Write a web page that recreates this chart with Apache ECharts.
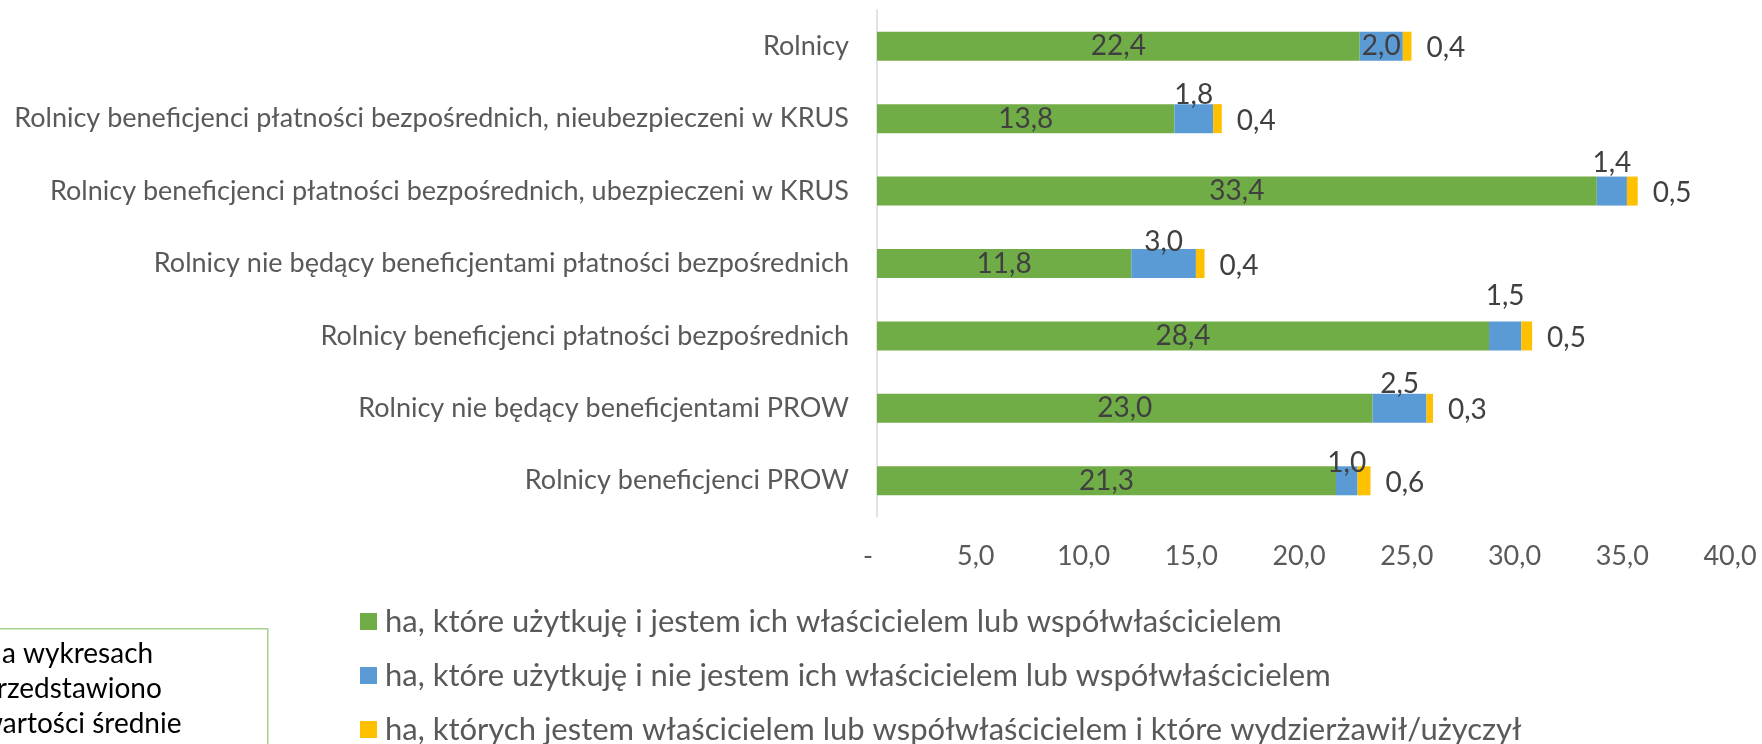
<!DOCTYPE html>
<html>
<head>
<meta charset="utf-8">
<title>Struktura gruntów rolnych</title>
<script src="https://cdn.jsdelivr.net/npm/echarts@6/dist/echarts.min.js"></script>
<style>
  html, body {
    margin: 0;
    padding: 0;
    background: #fff;
  }
  #chart {
    width: 1762px;
    height: 744px;
  }
</style>
</head>
<body>
<div id="chart"></div>
<script>
// kategorie od góry do dołu
const categories = [
  'Rolnicy',
  'Rolnicy beneficjenci płatności bezpośrednich, nieubezpieczeni w KRUS',
  'Rolnicy beneficjenci płatności bezpośrednich, ubezpieczeni w KRUS',
  'Rolnicy nie będący beneficjentami płatności bezpośrednich',
  'Rolnicy beneficjenci płatności bezpośrednich',
  'Rolnicy nie będący beneficjentami PROW',
  'Rolnicy beneficjenci PROW'
]

const seriesNames = [
  'ha, które użytkuję i jestem ich właścicielem lub współwłaścicielem',
  'ha, które użytkuję i nie jestem ich właścicielem lub współwłaścicielem',
  'ha, których jestem właścicielem lub współwłaścicielem i które wydzierżawił/użyczył'
]

const ownedUsed = [22.4, 13.8, 33.4, 11.8, 28.4, 23.0, 21.3]
const notOwnedUsed = [2.0, 1.8, 1.4, 3.0, 1.5, 2.5, 1.0]
const ownedLeasedOut = [0.4, 0.4, 0.5, 0.4, 0.5, 0.3, 0.6]

const axisMin = 0
const axisMax = 40
const axisStep = 5

// przesunięcie etykiet niebieskich w pionie (ręcznie ułożone w oryginale)
const blueLabelShift = [0, -24, -28, -22, -40, -24, -18]

const fontFamily = 'Lato, "Open Sans", sans-serif'

const fmt = v => v.toFixed(1).replace('.', ',')

const chart = echarts.init(document.getElementById('chart'), null, { renderer: 'canvas' })

const blueData = notOwnedUsed.map((v, i) => {
  return {
    value: v,
    label: { offset: [0, blueLabelShift[i]] }
  }
})

const chartOption = {
  animation: false,
  color: ['#70AD47', '#5B9BD5', '#FFC000'],
  textStyle: { fontFamily: fontFamily },
  grid: {
    left: 877,
    right: 23,
    top: 10,
    bottom: 227,
    containLabel: false
  },
  legend: {
    orient: 'vertical',
    left: 360,
    top: 606,
    height: 300,
    padding: 0,
    itemWidth: 17,
    itemHeight: 17,
    itemGap: 23,
    icon: 'rect',
    data: seriesNames,
    textStyle: {
      fontFamily: fontFamily,
      fontSize: 31,
      color: '#595959',
      padding: [0, 0, 0, 3]
    }
  },
  xAxis: {
    type: 'value',
    min: axisMin,
    max: axisMax,
    interval: axisStep,
    splitLine: { show: false },
    axisLine: { show: false },
    axisTick: { show: false },
    axisLabel: {
      margin: 26,
      fontSize: 27,
      color: '#595959',
      padding: [0, 18, 0, 0],
      formatter: v => (v === 0 ? '-' : fmt(v))
    }
  },
  yAxis: {
    type: 'category',
    inverse: true,
    data: categories,
    axisLine: {
      lineStyle: { color: '#D9D9D9', width: 1.5 }
    },
    axisTick: { show: false },
    axisLabel: {
      margin: 28,
      fontSize: 27,
      color: '#595959'
    }
  },
  series: [
    {
      name: seriesNames[0],
      type: 'bar',
      stack: 'ha',
      barWidth: 29,
      data: ownedUsed,
      label: {
        show: true,
        position: 'inside',
        fontSize: 28,
        color: '#404040',
        formatter: p => fmt(p.value)
      }
    },
    {
      name: seriesNames[1],
      type: 'bar',
      stack: 'ha',
      barWidth: 29,
      data: blueData,
      label: {
        show: true,
        position: 'inside',
        fontSize: 28,
        color: '#404040',
        formatter: p => fmt(p.value)
      }
    },
    {
      name: seriesNames[2],
      type: 'bar',
      stack: 'ha',
      barWidth: 29,
      data: ownedLeasedOut,
      label: {
        show: true,
        position: 'right',
        distance: 15,
        offset: [0, 2],
        fontSize: 28,
        color: '#404040',
        formatter: p => fmt(p.value)
      }
    }
  ],
  // ramka z przypisem w lewym dolnym rogu
  graphic: [
    {
      type: 'rect',
      left: -20,
      top: 628,
      shape: { width: 287, height: 140 },
      style: { fill: '#fff', stroke: '#A9D18E', lineWidth: 1.5 }
    },
    {
      type: 'text',
      left: -19,
      top: 636,
      style: {
        text: 'Na wykresach\nprzedstawiono\nwartości średnie',
        fontFamily: fontFamily,
        fontSize: 28,
        lineHeight: 35,
        fill: '#000'
      }
    }
  ]
}

chart.setOption(chartOption)
</script>
</body>
</html>
